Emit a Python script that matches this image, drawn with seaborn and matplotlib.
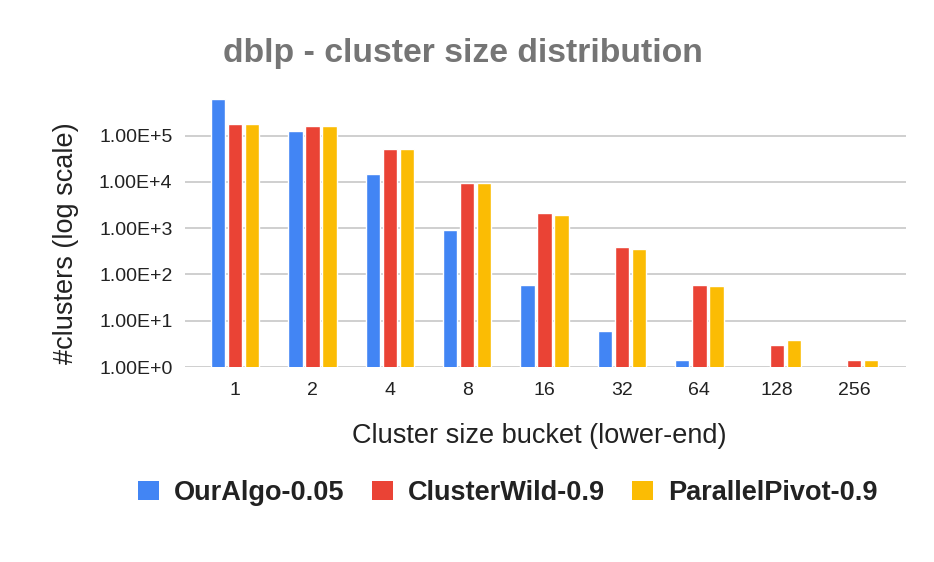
import numpy as np
import pandas as pd
import matplotlib
matplotlib.use("Agg")
import matplotlib.pyplot as plt
import seaborn as sns

# values (log-scale bar heights)
buckets = ["1", "2", "4", "8", "16", "32", "64", "128", "256"]
our_algo = [610000, 123000, 14800, 890, 58, 6.0, 1.45, np.nan, np.nan]
cluster_wild = [174000, 158000, 52500, 9550, 2140, 390, 59, 3.0, 1.45]
parallel_pivot = [174000, 158000, 52500, 9550, 1950, 355, 55, 3.9, 1.45]
series_names = ["OurAlgo-0.05", "ClusterWild-0.9", "ParallelPivot-0.9"]
colors = ["#4285F4", "#EA4335", "#FBBC04"]

df = pd.DataFrame({
    "bucket": buckets * 3,
    "count": our_algo + cluster_wild + parallel_pivot,
    "algo": [series_names[0]] * 9 + [series_names[1]] * 9 + [series_names[2]] * 9,
})

sns.set_theme(style="white")
plt.rcParams["font.family"] = ["Liberation Sans", "DejaVu Sans"]

W, H = 934, 562
fig = plt.figure(figsize=(W / 100, H / 100), dpi=100)
ax = fig.add_axes([185 / W, 195 / H, 721 / W, 273 / H])

sns.barplot(data=df, x="bucket", y="count", hue="algo", order=buckets,
            hue_order=series_names, palette=colors, width=0.66, gap=0.16,
            saturation=1, legend=False, ax=ax)

ax.set_yscale("log")
ax.set_ylim(1, 7.9e5)
ax.set_xlim(-0.646, 8.67)
ax.set_yticks([1, 10, 100, 1000, 10000, 100000])
ax.set_yticklabels([f"1.00E+{i}" for i in range(6)])
ax.yaxis.set_minor_locator(matplotlib.ticker.NullLocator())
ax.grid(axis="y", color="#cccccc", linewidth=1.3)
ax.set_axisbelow(True)
for s in ax.spines.values():
    s.set_visible(False)
ax.tick_params(axis="y", length=0, pad=9, labelsize=14, labelcolor="#222222")
ax.tick_params(axis="x", length=0, pad=11, labelsize=14, labelcolor="#222222")

ax.set_xlabel("Cluster size bucket (lower-end)", fontsize=19.5, color="#222222", va="center")
ax.xaxis.set_label_coords(539 / W, 1 - 436 / H, transform=fig.transFigure)
ax.set_ylabel("#clusters (log scale)", fontsize=19.5, color="#222222", va="center")
ax.yaxis.set_label_coords(66 / W, 1 - 243 / H, transform=fig.transFigure)

fig.text(463 / W, 1 - 62 / H, "dblp - cluster size distribution", ha="center",
         va="baseline", fontsize=24.3, fontweight="bold", color="#757575")

handles = [matplotlib.patches.Patch(facecolor=c, edgecolor="none") for c in colors]
fig.legend(handles, series_names, loc="center", bbox_to_anchor=(508 / W, 1 - 493 / H),
           ncol=3, frameon=False, handlelength=0.78, handleheight=0.74,
           handletextpad=0.55, columnspacing=1.0,
           prop={"size": 19.5, "weight": "bold"}, labelcolor="#222222")

fig.savefig("out.png", dpi=100)
